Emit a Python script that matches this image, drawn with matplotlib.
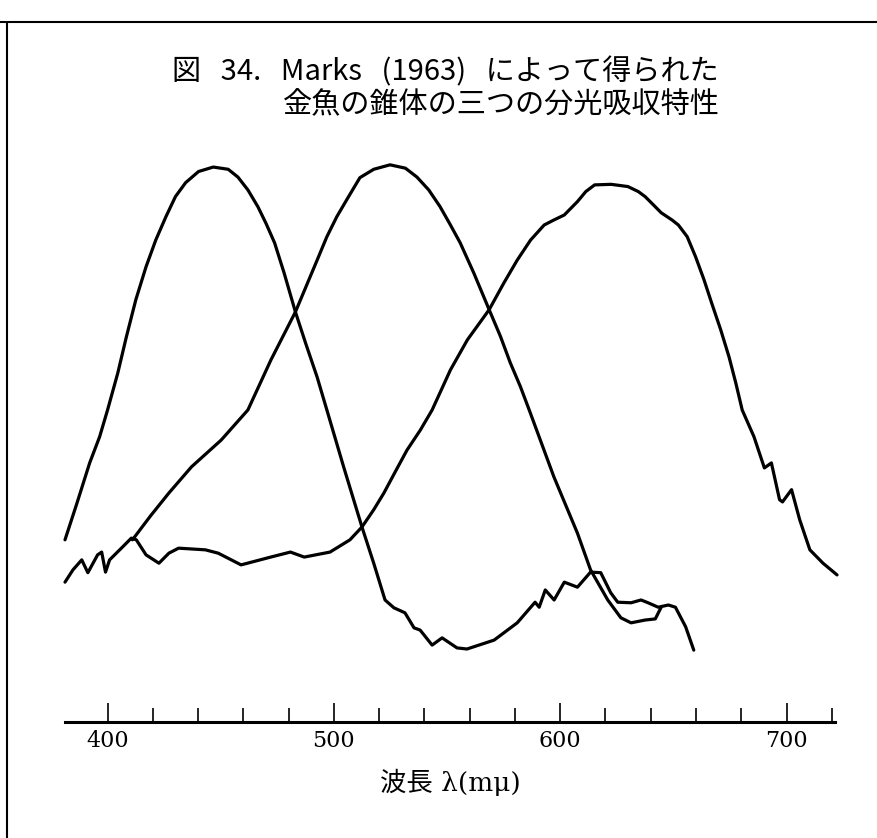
import matplotlib.pyplot as plt
from matplotlib.lines import Line2D
from matplotlib.ticker import MultipleLocator

# 波長 (mμ) と相対吸収 (ピーク = 100) を図から読み取った値
lam_a = [381.2, 386.5, 392.1, 396.5, 400.0, 404.5, 408.3, 412.5, 417.0, 421.3,
         425.8, 430.0, 434.5, 440.2, 446.7, 453.3, 457.6, 462.0, 466.4, 470.0,
         473.8, 478.0, 483.0, 487.5, 492.6, 496.9, 504.3, 512.4, 517.6, 522.6,
         526.5, 531.4, 535.4, 538.1, 543.4, 547.8, 554.4, 558.8, 570.8, 581.0,
         588.9, 590.7, 593.4, 597.3, 601.8, 607.6, 613.4, 617.9, 622.3, 625.4,
         631.3, 635.7, 638.8, 643.3, 647.8, 650.9, 655.4, 659.0]
abs_a = [32.7, 39.3, 46.5, 51.2, 56.0, 62.6, 69.1, 75.8, 81.7, 86.5,
         90.7, 94.3, 96.8, 98.8, 99.6, 99.2, 97.8, 95.5, 92.5, 89.5,
         86.0, 80.6, 73.6, 68.0, 61.9, 56.0, 45.8, 35.0, 28.5, 21.9,
         20.5, 19.6, 16.9, 16.5, 13.8, 15.1, 13.3, 13.1, 14.7, 17.8,
         21.5, 20.6, 23.7, 21.9, 25.1, 24.2, 26.9, 26.8, 23.2, 21.5,
         21.4, 21.9, 21.4, 20.6, 21.0, 20.6, 17.1, 12.9]

lam_b = [411.0, 419.0, 427.1, 437.1, 450.2, 462.0, 472.2, 483.0, 492.6, 496.9,
         501.3, 506.5, 511.5, 517.6, 524.8, 531.6, 536.7, 541.9, 546.9, 551.5,
         555.8, 561.8, 568.6, 573.6, 577.9, 582.4, 586.3, 597.2, 607.6, 613.4,
         621.0, 626.8, 631.3, 637.5, 642.0, 644.6]
abs_b = [32.7, 37.0, 41.1, 45.8, 50.6, 56.0, 65.0, 73.6, 82.9, 87.1,
         90.7, 94.3, 97.7, 99.2, 100.0, 99.4, 97.8, 95.5, 92.5, 89.2,
         86.0, 80.6, 74.0, 69.2, 64.5, 60.2, 56.0, 44.0, 33.9, 27.3,
         21.9, 18.7, 17.8, 18.3, 18.5, 20.6]

lam_c = [381.2, 384.7, 388.6, 391.3, 395.6, 397.4, 399.1, 400.9, 406.6, 410.5,
         412.7, 417.0, 422.7, 427.1, 431.4, 443.2, 448.9, 459.0, 472.1, 480.8,
         486.9, 498.3, 507.1, 512.4, 517.6, 522.1, 527.1, 532.3, 538.2, 543.4,
         551.5, 559.0, 568.6, 575.1, 581.0, 586.9, 592.9, 597.2, 601.8, 607.6,
         611.3, 615.2, 622.5, 629.9, 634.5, 637.5, 641.2, 644.6, 649.4, 652.2,
         656.1, 659.8, 663.5, 666.9, 670.9, 674.6, 677.6, 680.4, 685.6, 690.2,
         693.3, 696.9, 698.2, 702.2, 705.8, 710.3, 716.1, 722.3]
abs_c = [25.1, 27.3, 29.1, 26.8, 30.0, 30.5, 26.9, 29.1, 31.4, 33.0,
         32.7, 30.0, 28.5, 30.3, 31.2, 30.9, 30.3, 28.2, 29.6, 30.5,
         29.6, 30.5, 32.7, 35.0, 38.1, 41.1, 44.9, 48.8, 52.4, 56.0,
         63.2, 68.6, 74.0, 78.8, 82.9, 86.5, 89.2, 90.1, 91.0, 93.4,
         95.2, 96.4, 96.5, 96.1, 95.2, 94.3, 92.8, 91.4, 90.1, 89.2,
         87.1, 83.5, 79.4, 75.2, 70.4, 65.5, 60.8, 56.0, 51.2, 45.6,
         46.5, 39.9, 39.5, 41.7, 36.3, 30.9, 28.5, 26.4]

major_ticks = [400, 500, 600, 700]

fig = plt.figure(figsize=(8.77, 8.38), dpi=100)
ax = fig.add_axes([65 / 877, 116 / 838, 770 / 877, 614 / 838])

for lam, val in [(lam_a, abs_a), (lam_b, abs_b), (lam_c, abs_c)]:
    ax.plot(lam, val, color='black', lw=2.3, solid_joinstyle='round',
            solid_capstyle='round', clip_on=False)

ax.set_xlim(381.2, 721.4)
ax.set_ylim(0, 110.2)

for s in ['top', 'left', 'right']:
    ax.spines[s].set_visible(False)
ax.spines['bottom'].set_linewidth(2.2)
ax.set_yticks([])

ax.set_xticks(major_ticks)
ax.xaxis.set_minor_locator(MultipleLocator(20))
ax.tick_params(axis='x', which='major', direction='in', length=14, width=1.2,
               pad=6, labelsize=16)
ax.tick_params(axis='x', which='minor', direction='in', length=10, width=1.2)
for lbl in ax.get_xticklabels():
    lbl.set_family('DejaVu Serif')

ax.set_xlabel('波長 λ(mμ)', family=['DejaVu Serif', 'Noto Sans CJK JP'],
              fontsize=19, labelpad=12)

# タイトル
jp = ['Noto Sans CJK JP', 'DejaVu Sans']
fig.text(172 / 877, 1 - 72 / 838, '図   34.   Marks   (1963)   によって得られた',
         family=jp, fontsize=21, va='center')
fig.text(283 / 877, 1 - 105 / 838, '金魚の錐体の三つの分光吸収特性',
         family=jp, fontsize=21, va='center')

# 枠線 (スキャンの枠)
fig.add_artist(Line2D([0, 1], [1 - 22 / 838] * 2, color='black', lw=1.5))
fig.add_artist(Line2D([7 / 877] * 2, [1 - 24 / 838, 0], color='black', lw=1.5))

fig.savefig('out.png', dpi=100)
